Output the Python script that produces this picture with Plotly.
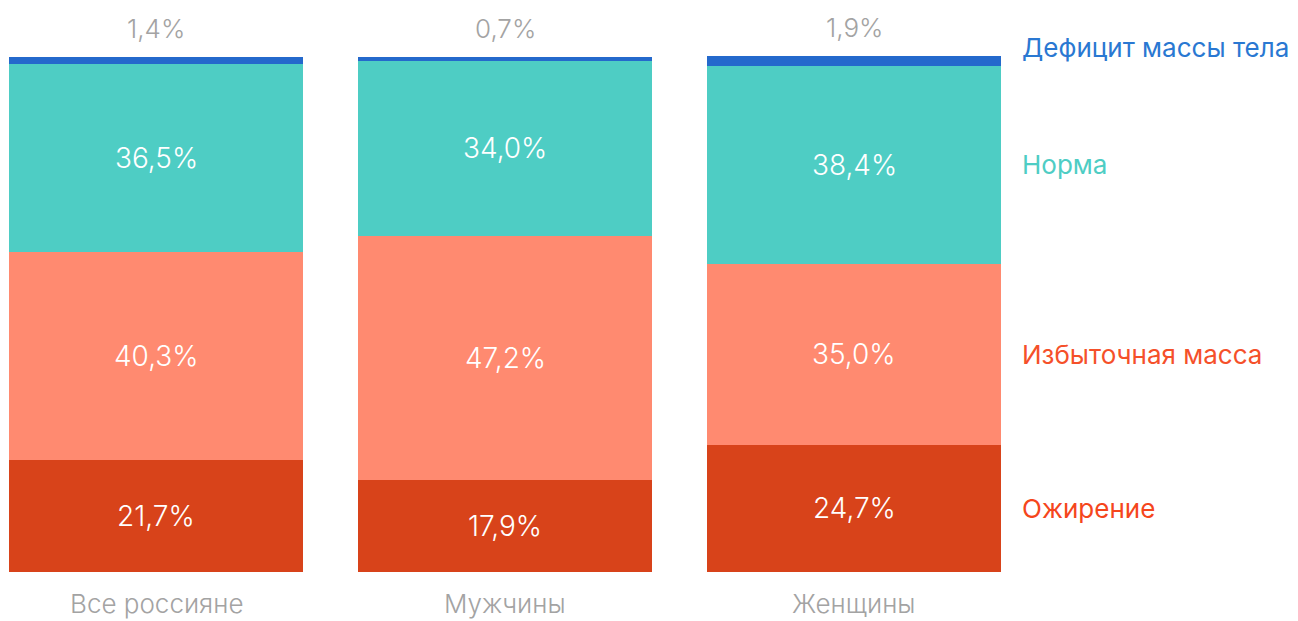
import plotly.graph_objects as go

# Body-mass categories by group, percent
groups = ["Все россияне", "Мужчины", "Женщины"]
obesity = [21.7, 17.9, 24.7]
overweight = [40.3, 47.2, 35.0]
normal = [36.5, 34.0, 38.4]
deficit = [1.4, 0.7, 1.9]

series_names = ["Ожирение", "Избыточная масса", "Норма", "Дефицит массы тела"]
bar_colors = ["#D8431A", "#FF8A70", "#4ECDC4", "#2469CC"]
label_colors = ["#F5461C", "#F5502A", "#4ECDC4", "#2A78D2"]

FONT = "Inter"
GRAY = "#A3A3A3"


def fmt(v):
    return f"{v:.1f}".replace(".", ",") + "%"


fig = go.Figure()
all_series = [obesity, overweight, normal, deficit]
for name, vals, col in zip(series_names, all_series, bar_colors):
    fig.add_trace(go.Bar(
        x=groups, y=vals, name=name,
        marker=dict(color=col, line=dict(width=0)),
        hoverinfo="skip",
    ))

annotations = []
# Values inside the three large segments, at each segment's centre
for gi, g in enumerate(groups):
    base = 0.0
    for si, vals in enumerate(all_series):
        v = vals[gi]
        if si < 3:
            annotations.append(dict(
                x=g, y=base + v / 2, xref="x", yref="y", text=fmt(v),
                showarrow=False,
                font=dict(family=FONT, size=28, color="white", weight=300),
            ))
        base += v
    # Deficit share printed above the bar
    annotations.append(dict(
        x=g, y=base, xref="x", yref="y", text=fmt(deficit[gi]),
        showarrow=False, yanchor="bottom", yshift=11,
        font=dict(family=FONT, size=26, color=GRAY, weight=300),
    ))
    # Group name under the bar
    annotations.append(dict(
        x=g, y=0, xref="x", yref="y", text=g,
        showarrow=False, yanchor="top", yshift=-14,
        font=dict(family=FONT, size=26, color=GRAY, weight=300),
    ))

# Series labels on the right, lined up with the last group's segments
last = len(groups) - 1
base = 0.0
for si, vals in enumerate(all_series):
    v = vals[last]
    if si < 3:
        y, shift = base + v / 2, 0
    else:
        y, shift = base + v, 9
    annotations.append(dict(
        x=2.476, y=y, xref="x", yref="y", text=series_names[si],
        showarrow=False, xanchor="left", yshift=shift,
        font=dict(family=FONT, size=26, color=label_colors[si], weight=400),
    ))
    base += v

fig.update_layout(
    barmode="stack",
    bargap=0.158,
    width=1298, height=621,
    margin=dict(l=0, r=0, t=56, b=49),
    paper_bgcolor="white", plot_bgcolor="white",
    showlegend=False,
    xaxis=dict(range=[-0.447, 3.272], showticklabels=False, showgrid=False,
               zeroline=False, fixedrange=True),
    yaxis=dict(range=[0, 100], showticklabels=False, showgrid=False,
               zeroline=False, fixedrange=True),
    annotations=annotations,
)

fig.write_html("out.html", config={"displayModeBar": False})
